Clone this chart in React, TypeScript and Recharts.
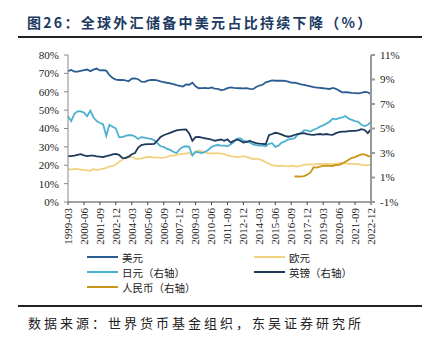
import React from "react";
import { LineChart, Line, XAxis, YAxis } from "recharts";

// quarterly labels 1999-03 .. 2022-12
const quarters: string[] = [];
for (let y = 1999; y <= 2022; y++) {
  for (const m of ["03", "06", "09", "12"]) quarters.push(`${y}-${m}`);
}

// shares, % of allocated reserves
const usd = [
  71.2, 71.9, 71.0, 71.0, 71.4, 71.8, 72.1, 71.2, 72.0, 72.6, 71.6, 71.7,
  71.5, 69.0, 67.5, 66.6, 66.4, 66.5, 66.2, 65.7, 67.2, 67.3, 66.8, 65.5,
  65.4, 66.0, 66.4, 66.5, 66.2, 65.6, 65.3, 64.9, 64.6, 64.2, 63.6, 63.2,
  62.8, 64.0, 63.8, 64.9, 63.0, 61.9, 62.0, 62.1, 61.8, 62.3, 61.7, 61.6,
  60.9, 61.2, 62.0, 62.4, 62.1, 62.0, 61.9, 61.8, 62.0, 61.6, 61.4, 62.6,
  63.4, 63.8, 65.1, 65.6, 66.2, 66.0, 66.0, 66.1, 65.9, 65.5, 65.0, 64.9,
  64.5, 64.0, 63.7, 63.3, 62.9, 62.5, 62.3, 62.1, 61.9, 61.7, 61.5, 62.1,
  61.6, 60.6, 59.7, 59.8, 59.6, 59.4, 59.3, 59.1, 59.4, 59.9, 59.7, 58.6,
];
const eur = [
  18.1, 17.6, 18.0, 17.9, 17.6, 17.5, 17.2, 17.0, 18.0, 17.4, 17.8, 18.1,
  18.6, 19.3, 19.6, 20.3, 21.9, 23.0, 24.0, 24.5, 24.6, 23.6, 23.5, 23.8,
  24.2, 24.5, 24.6, 24.2, 24.3, 24.0, 24.1, 24.5, 25.1, 25.3, 25.6, 26.0,
  26.2, 26.4, 26.7, 25.5, 27.2, 28.0, 27.5, 27.0, 26.5, 26.4, 26.6, 26.5,
  26.3, 26.0, 25.4, 25.0, 24.7, 24.5, 24.6, 24.9, 24.5, 24.0, 23.4, 23.6,
  23.3, 22.5, 21.6, 20.8, 20.0, 19.8, 19.6, 19.8, 19.5, 19.4, 19.6, 19.5,
  19.3, 19.8, 20.2, 20.4, 20.5, 20.5, 20.6, 20.7, 20.6, 20.7, 20.8, 20.6,
  20.8, 21.2, 21.3, 21.2, 20.8, 20.7, 20.6, 20.6, 20.3, 20.1, 20.0, 20.5,
];
const jpy = [
  6.0, 5.6, 6.2, 6.4, 6.4, 6.3, 6.0, 6.45, 5.9, 5.6, 5.45, 5.35,
  4.4, 5.3, 5.15, 5.0, 4.3, 4.3, 4.4, 4.45, 4.45, 4.35, 4.15, 4.3,
  4.25, 4.2, 4.15, 4.05, 3.8, 3.55, 3.5, 3.35, 3.25, 3.1, 3.0, 3.3,
  3.5, 3.55, 3.5, 2.8, 3.1, 3.05, 3.0, 3.1, 3.25, 3.5, 3.6, 3.65,
  3.6, 3.6, 3.55, 3.7, 3.9, 4.15, 4.2, 4.0, 3.95, 3.85, 3.7, 3.65,
  3.6, 3.6, 3.55, 3.75, 3.8, 3.5, 3.6, 3.85, 3.95, 4.1, 4.15, 4.2,
  4.5, 4.6, 4.85, 4.85, 4.75, 4.9, 5.0, 5.15, 5.25, 5.4, 5.55, 5.8,
  5.75, 5.85, 5.9, 6.02, 5.8, 5.7, 5.6, 5.55, 5.3, 5.2, 5.3, 5.55,
];
const gbp = [
  2.75, 2.75, 2.78, 2.85, 2.9, 2.8, 2.75, 2.78, 2.78, 2.72, 2.7, 2.66,
  2.75, 2.8, 2.88, 2.92, 2.85, 2.6, 2.58, 2.7, 2.9, 3.0, 3.45, 3.65,
  3.7, 3.72, 3.72, 3.75, 4.0, 4.3, 4.45, 4.55, 4.65, 4.75, 4.85, 4.88,
  4.9, 4.92, 4.6, 4.0, 4.3, 4.32, 4.25, 4.2, 4.15, 4.1, 4.0, 4.05,
  4.1, 4.0, 4.12, 3.85, 4.0, 4.1, 4.0, 3.85, 3.9, 4.0, 3.88, 3.8,
  3.76, 3.75, 3.72, 4.45, 4.55, 4.65, 4.6, 4.5, 4.4, 4.33, 4.38, 4.47,
  4.55, 4.6, 4.62, 4.55, 4.5, 4.48, 4.52, 4.55, 4.5, 4.55, 4.5, 4.48,
  4.62, 4.7, 4.75, 4.75, 4.78, 4.8, 4.8, 4.85, 4.95, 4.88, 4.62, 4.95,
];
// RMB reported from 2016-12
const cnyStart = "2016-12";
const cny = [
  1.08, 1.08, 1.07, 1.12, 1.23, 1.39, 1.84, 1.8, 1.89, 1.95, 1.97, 1.95, 1.94,
  2.02, 2.03, 2.13, 2.29, 2.45, 2.61, 2.66, 2.79, 2.88, 2.88, 2.76, 2.69,
];

const leftTicks = [0, 10, 20, 30, 40, 50, 60, 70, 80];
const rightTicks = [-1, 1, 3, 5, 7, 9, 11];

const series = [
  { key: "usd", name: "美元", color: "#2c5d91", axis: "left" },
  { key: "eur", name: "欧元", color: "#f1d27f", axis: "left" },
  { key: "jpy", name: "日元（右轴）", color: "#4cb1d0", axis: "right" },
  { key: "gbp", name: "英镑（右轴）", color: "#1d3a5c", axis: "right" },
  { key: "cny", name: "人民币（右轴）", color: "#c9961a", axis: "right" },
];

const c0 = quarters.indexOf(cnyStart);
const data = quarters.map((q, i) => ({
  q,
  usd: usd[i],
  eur: eur[i],
  jpy: jpy[i],
  gbp: gbp[i],
  cny: i >= c0 ? cny[i - c0] : null,
}));

const serif = "'Liberation Serif', 'DejaVu Serif', serif";
const cjk = "'Noto Sans CJK SC', sans-serif";

const XTick = (props: any) => {
  const { x, y, payload } = props;
  return (
    <text
      x={x}
      y={y}
      dy="0.35em"
      transform={`rotate(-90 ${x} ${y})`}
      textAnchor="end"
      fontSize={11}
      fontFamily={serif}
      fill="#222"
    >
      {payload.value}
    </text>
  );
};

export default function App() {
  return (
    <div
      style={{
        position: "absolute",
        left: 0,
        top: 0,
        width: 428,
        height: 345,
        background: "#fff",
      }}
    >
      <div
        style={{
          position: "absolute",
          left: 27,
          top: 12,
          fontFamily: cjk,
          fontWeight: 700,
          fontSize: 14,
          letterSpacing: 2.3,
          color: "#203a62",
          whiteSpace: "nowrap",
        }}
      >
        图26：全球外汇储备中美元占比持续下降（%）
      </div>
      <div
        style={{
          position: "absolute",
          left: 18,
          top: 36,
          width: 404,
          height: 1.5,
          background: "#222",
        }}
      />

      <div style={{ position: "absolute", left: 0, top: 0 }}>
        <LineChart
          width={428}
          height={345}
          data={data}
          margin={{ top: 55, right: 0, bottom: 98, left: 0 }}
        >
          <XAxis
            dataKey="q"
            interval={4}
            tick={<XTick />}
            tickSize={3}
            tickMargin={3}
            height={45}
            stroke="#444"
          />
          <YAxis
            yAxisId="left"
            domain={[0, 80]}
            ticks={leftTicks}
            tickFormatter={(v) => `${v}%`}
            width={68}
            tickSize={4}
            tickMargin={5}
            stroke="#888"
            tick={{ fontSize: 11, fontFamily: serif, fill: "#222" }}
          />
          <YAxis
            yAxisId="right"
            orientation="right"
            domain={[-1, 11]}
            ticks={rightTicks}
            tickFormatter={(v) => `${v}%`}
            width={57}
            tickSize={4}
            tickMargin={5}
            stroke="#999"
            strokeWidth={2}
            tick={{ fontSize: 11, fontFamily: serif, fill: "#222" }}
          />
          {series.map((s) => (
            <Line
              key={s.key}
              yAxisId={s.axis}
              dataKey={s.key}
              type="linear"
              stroke={s.color}
              strokeWidth={1.8}
              dot={false}
              isAnimationActive={false}
            />
          ))}
        </LineChart>
      </div>

      {series.map((s, i) => (
        <div
          key={s.key}
          style={{
            position: "absolute",
            left: i % 2 === 0 ? 87 : 254,
            top: 249 + Math.floor(i / 2) * 15,
            height: 16,
            display: "flex",
            alignItems: "center",
            fontFamily: cjk,
            fontSize: 10.5,
            color: "#222",
            whiteSpace: "nowrap",
          }}
        >
          <span
            style={{
              display: "inline-block",
              width: 31,
              height: 2,
              background: s.color,
              marginRight: 4,
            }}
          />
          {s.name}
        </div>
      ))}

      <div
        style={{
          position: "absolute",
          left: 18,
          top: 305,
          width: 404,
          height: 1.5,
          background: "#222",
        }}
      />
      <div
        style={{
          position: "absolute",
          left: 28,
          top: 313,
          fontFamily: cjk,
          fontSize: 13,
          letterSpacing: 3,
          color: "#222",
          whiteSpace: "nowrap",
        }}
      >
        数据来源：世界货币基金组织，东吴证券研究所
      </div>
    </div>
  );
}
